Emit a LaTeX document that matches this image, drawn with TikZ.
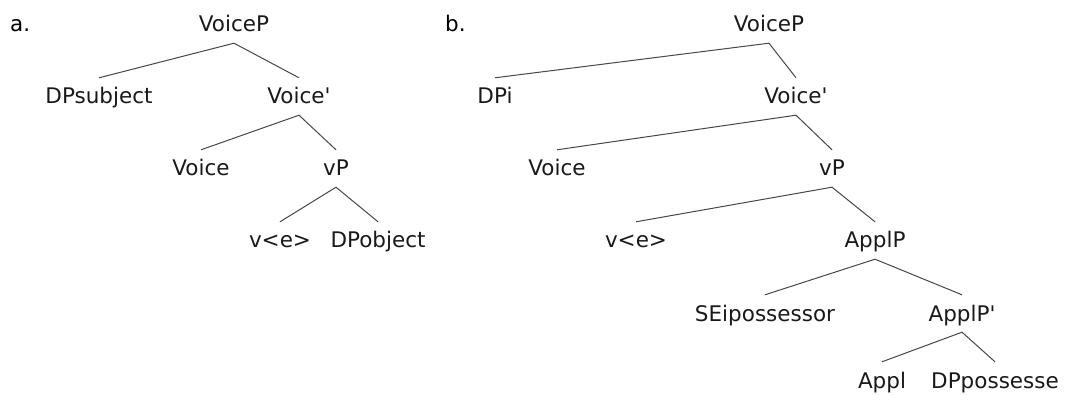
\documentclass[tikz,border=0pt]{standalone}
\usepackage{fontspec}
\setmainfont{DejaVu Sans}[Ligatures=TeXOff]
\begin{document}
\begin{tikzpicture}[x=1pt,y=-1pt,
  lbl/.style={anchor=base,inner sep=0pt,text height=26pt,text depth=11pt,
              font=\fontsize{21.5}{24}\selectfont,text=black!90},
  treelabel/.style={anchor=base west,inner sep=0pt,font=\fontsize{21.5}{24}\selectfont},
  branch/.style={draw=black!72,line width=1pt}]
\useasboundingbox (0,0) rectangle (1065,395);

% tree a
\node[treelabel] (la) at (10,32) {a.};
\node[lbl] (aVP)  at (234,32)  {VoiceP};
\node[lbl] (aDP)  at (99,104)  {DPsubject};
\node[lbl] (aVb)  at (299,104) {Voice'};
\node[lbl] (aV)   at (201,176) {Voice};
\node[lbl] (avP)  at (336,176) {vP};
\node[lbl] (ave)  at (280,248) {v<e>};
\node[lbl] (aDO)  at (378,248) {DPobject};

\draw[branch] (aDP.north) -- (aVP.south) -- (aVb.north);
\draw[branch] (aV.north)  -- (aVb.south) -- (avP.north);
\draw[branch] (ave.north) -- (avP.south) -- (aDO.north);

% tree b
\node[treelabel] (lb) at (445,32) {b.};
\node[lbl] (bVP)  at (769,32)  {VoiceP};
\node[lbl] (bDP)  at (495,104) {DPi};
\node[lbl] (bVb)  at (796,104) {Voice'};
\node[lbl] (bV)   at (557,176) {Voice};
\node[lbl] (bvP)  at (832,176) {vP};
\node[lbl] (bve)  at (636,248) {v<e>};
\node[lbl] (bAP)  at (875,248) {ApplP};
\node[lbl] (bSE)  at (765,321) {SEipossessor};
\node[lbl] (bAb)  at (962,321) {ApplP'};
\node[lbl] (bA)   at (882,388) {Appl};
\node[lbl] (bDPp) at (995,388) {DPpossesse};

\draw[branch] (bDP.north) -- (bVP.south) -- (bVb.north);
\draw[branch] (bV.north)  -- (bVb.south) -- (bvP.north);
\draw[branch] (bve.north) -- (bvP.south) -- (bAP.north);
\draw[branch] (bSE.north) -- (bAP.south) -- (bAb.north);
\draw[branch] (bA.north)  -- (bAb.south) -- (bDPp.north);
\end{tikzpicture}
\end{document}
